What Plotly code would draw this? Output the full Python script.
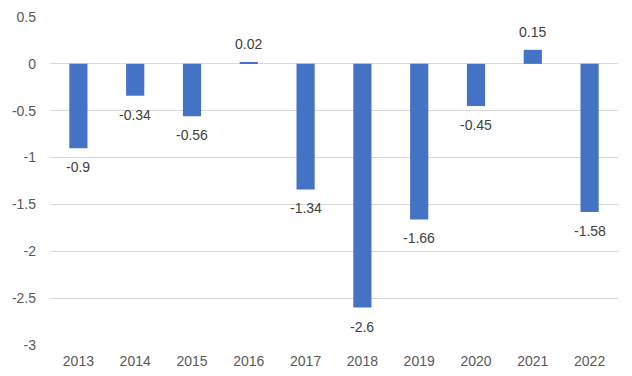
import plotly.graph_objects as go

years = ["2013", "2014", "2015", "2016", "2017", "2018", "2019", "2020", "2021", "2022"]
values = [-0.9, -0.34, -0.56, 0.02, -1.34, -2.6, -1.66, -0.45, 0.15, -1.58]
labels = ["-0.9", "-0.34", "-0.56", "0.02", "-1.34", "-2.6", "-1.66", "-0.45", "0.15", "-1.58"]
tick_vals = [0.5, 0, -0.5, -1, -1.5, -2, -2.5, -3]
tick_text = ["0.5", "0", "-0.5", "-1", "-1.5", "-2", "-2.5", "-3"]

fig = go.Figure(go.Bar(
    x=years, y=values,
    marker=dict(color="#4472C4", line=dict(width=0)),
    cliponaxis=False,
))
for i, (v, lab) in enumerate(zip(values, labels)):
    fig.add_annotation(x=i, y=v, text=lab, showarrow=False,
                       yanchor="middle", xanchor="center",
                       yshift=18 if v >= 0 else -19,
                       font=dict(size=14, color="#404040"))
fig.update_layout(
    width=632, height=376,
    margin=dict(l=42, r=22, t=9, b=39),
    paper_bgcolor="white", plot_bgcolor="white",
    bargap=0.68,
    showlegend=False,
    font=dict(family="Liberation Sans, Arial, sans-serif", size=14, color="#595959"),
)
fig.update_xaxes(type="category", range=[-0.5, len(years) - 0.5],
                 showgrid=False, showline=False, ticks="", automargin=False,
                 tickfont=dict(size=14, color="#595959"), ticklabelstandoff=6)
fig.update_yaxes(range=[-3, 0.5], tickvals=tick_vals, ticktext=tick_text,
                 showgrid=True, gridcolor="#D9D9D9", gridwidth=1, automargin=False,
                 zeroline=False, showline=False, ticks="",
                 tickfont=dict(size=14, color="#595959"), ticklabelstandoff=13)
fig.write_html("out.html")
